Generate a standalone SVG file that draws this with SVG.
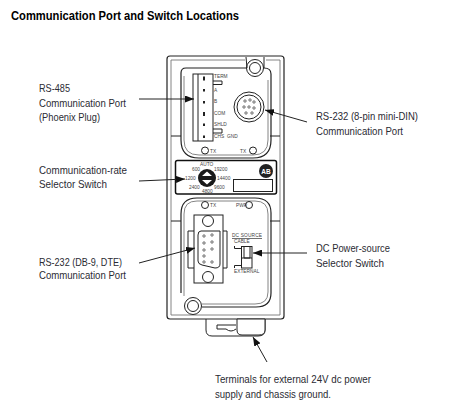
<svg xmlns="http://www.w3.org/2000/svg" width="463" height="411" viewBox="0 0 463 411">
<style>
text{font-family:"Liberation Sans",sans-serif}
.lb{font-size:10.8px;fill:#2b2b33}
.tt{font-size:12px;font-weight:700;fill:#000}
.t{font-size:4.8px;fill:#444}
.d{fill:none;stroke:#222;stroke-width:1}
.h{fill:none;stroke:#222;stroke-width:1.2}
.w{fill:#fff;stroke:#222;stroke-width:1}
.g{fill:none;stroke:#777;stroke-width:.9}
.p{fill:none;stroke:#333;stroke-width:.7}
.c{stroke:#222;stroke-width:1;fill:none;marker-end:url(#a)}
</style>
<defs><marker id="a" viewBox="0 0 9 7" refX="9" refY="3.500" markerWidth="9" markerHeight="7" markerUnits="userSpaceOnUse" orient="auto"><path d="M0 0L9 3.500L0 7Z" fill="#111"/></marker></defs>
<rect width="463" height="411" fill="#fff"/>
<text class="tt" x="11" y="20" textLength="228" lengthAdjust="spacingAndGlyphs">Communication Port and Switch Locations</text>
<g id="device">
<path class="h" d="M170 56H281Q284 56 284 59V316Q284 319 281 319H170Q167 319 167 316V59Q167 56 170 56Z"/>
<path class="g" d="M171 60H245M266 60H280M171 60V315H280V60"/>
<path class="d" d="M171 136H181M270 136H280M171 221H181M270 221H280"/>
<path class="d" d="M206 319V330Q206 336 212 336H258Q265 336 265 330V319"/>
<path class="w" d="M237 319H265V330Q265 335 259 335H242Q237 335 237 330Z"/>
<path class="d" d="M217 325H236M217 325V329H226Q231 333 236 329"/>
</g>
<g id="rs485-panel">
<path class="h" d="M186 68H246M264 68Q271 68 271 74V140Q271 158 253 158H199Q181 158 181 140V73Q181 68 186 68Z"/>
<path class="g" d="M268 80V140Q268 155 253 155H199Q184 155 184 140V76"/>
<circle class="w" cx="255" cy="68" r="8.500"/><circle class="d" cx="255" cy="68" r="5.500"/>
<path class="d" d="M246 57L247 68M264 57L264 68"/>
<rect class="w" x="193" y="74" width="20" height="67"/>
<path class="d" d="M198 74V141"/>
<path class="d" d="M213 81H222V84.500H213M213 129H222V133H213"/>
<g fill="#222"><rect x="203" y="76.500" width="2" height="4"/><rect x="203" y="89" width="2" height="2.500"/><rect x="203" y="101" width="2" height="2.500"/><rect x="203" y="112" width="2" height="4"/><rect x="203" y="123.500" width="2" height="2.500"/><rect x="203" y="135.500" width="2" height="2.500"/></g>
<text class="t" x="214" y="78">TERM</text><text class="t" x="214" y="92">A</text><text class="t" x="214" y="103">B</text><text class="t" x="214" y="115">COM</text><text class="t" x="214" y="126">SHLD</text><text class="t" x="214" y="138">CHS</text><text class="t" x="227" y="138">GND</text>
</g>
<g id="mini-din">
<circle class="d" cx="249" cy="107" r="15"/><circle class="w" cx="249" cy="107" r="12"/>
<g class="p"><circle cx="245" cy="101" r="1.200"/><circle cx="250" cy="100" r="1.200"/><circle cx="254" cy="102" r="1.200"/><circle cx="244" cy="107" r="1.200"/><circle cx="249" cy="107" r="1.200"/><circle cx="254" cy="108" r="1.200"/><circle cx="246" cy="113" r="1.200"/><circle cx="252" cy="113" r="1.200"/></g>
</g>
<g id="tx-leds-top">
<circle class="d" cx="205" cy="150.500" r="3.500"/><text class="t" x="210" y="153">TX</text>
<circle class="d" cx="253" cy="150.500" r="3.500"/><text class="t" x="240" y="153">TX</text>
</g>
<g id="rate-switch">
<rect x="175.500" y="160.500" width="101" height="33.500" rx="2" fill="#fff" stroke="#111" stroke-width="1.500"/>
<circle cx="207" cy="178" r="9" fill="#1a1a1a"/><path d="M202 176L207 171.500L212 176ZM202 180H212L207 184.500Z" fill="#fff"/>
<text class="t" x="200" y="166">AUTO</text><text class="t" x="192" y="171">600</text><text class="t" x="214" y="171">19200</text><text class="t" x="185" y="180">1200</text><text class="t" x="217" y="180">14400</text><text class="t" x="189" y="189">2400</text><text class="t" x="214" y="189">9600</text><text class="t" x="202" y="193">4800</text>
<circle cx="266" cy="171" r="7" fill="#222"/><text x="266" y="173.500" text-anchor="middle" font-size="6.500" font-weight="700" fill="#fff">AB</text>
<rect class="d" x="233.500" y="179.500" width="39" height="12"/>
</g>
<g id="db9-panel">
<path class="h" d="M202 307H256Q271 307 271 293V213Q271 198 255 198H197Q181 198 181 214V293"/>
<path class="g" d="M202 304H255Q268 304 268 292V214Q268 201 255 201H197Q184 201 184 214V296"/>
<circle class="w" cx="193" cy="306" r="8.500"/><circle class="d" cx="193" cy="306" r="5.500"/>
<circle class="d" cx="205" cy="205" r="3.500"/><text class="t" x="210" y="207">TX</text>
<circle class="d" cx="249" cy="205" r="3.500"/><text class="t" x="236" y="207">PWR</text>
</g>
<g id="db9">
<rect class="w" x="194" y="215" width="29" height="68"/>
<path class="d" d="M194 231H188V268H194M223 231H227V268H223"/>
<circle class="w" cx="208" cy="221" r="5.500"/><circle class="w" cx="208" cy="277" r="5.500"/>
<path class="w" d="M201 231Q198 231 198 235V261Q198 264 202 265L215 268Q220 268 220 264V231Z"/>
<g class="p"><circle cx="204" cy="236" r="1.200"/><circle cx="204" cy="243" r="1.200"/><circle cx="204" cy="250" r="1.200"/><circle cx="204" cy="256" r="1.200"/><circle cx="204" cy="262" r="1.200"/><circle cx="212" cy="235" r="1.200"/><circle cx="212" cy="242" r="1.200"/><circle cx="212" cy="249" r="1.200"/><circle cx="212" cy="262" r="1.200"/></g>
</g>
<g id="dc-switch">
<text class="t" x="232" y="237" textLength="30">DC  SOURCE</text><path class="p" d="M232 238.500H262"/>
<text class="t" x="234" y="243">CABLE</text>
<text class="t" x="234" y="273">EXTERNAL</text>
<path class="d" d="M234.500 246V248.500H241M234.500 268V265.500H241"/>
<rect class="w" x="241.500" y="246.500" width="10.500" height="21.500"/><path class="d" d="M244 247V258H250V247M241.500 258H252"/>
</g>
<g id="connectors">
<path class="c" d="M139 99H194"/>
<path class="c" d="M307 122L265 110"/>
<path class="c" d="M139 181L185 179"/>
<path class="c" d="M139 263L195 248"/>
<path class="c" d="M307 253H253"/>
<path class="c" d="M267 362L253 337"/>
</g>
<g id="labels">
<text class="lb" x="39" y="92" textLength="31" lengthAdjust="spacingAndGlyphs">RS-485</text><text class="lb" x="39" y="107" textLength="87" lengthAdjust="spacingAndGlyphs">Communication Port</text><text class="lb" x="39" y="120.500" textLength="61" lengthAdjust="spacingAndGlyphs">(Phoenix Plug)</text>
<text class="lb" x="316" y="120" textLength="102" lengthAdjust="spacingAndGlyphs">RS-232 (8-pin mini-DIN)</text><text class="lb" x="316" y="135" textLength="87" lengthAdjust="spacingAndGlyphs">Communication Port</text>
<text class="lb" x="39" y="174" textLength="88" lengthAdjust="spacingAndGlyphs">Communication-rate</text><text class="lb" x="39" y="188" textLength="68" lengthAdjust="spacingAndGlyphs">Selector Switch</text>
<text class="lb" x="39" y="266" textLength="83" lengthAdjust="spacingAndGlyphs">RS-232 (DB-9, DTE)</text><text class="lb" x="39" y="279" textLength="87" lengthAdjust="spacingAndGlyphs">Communication Port</text>
<text class="lb" x="316" y="252" textLength="74" lengthAdjust="spacingAndGlyphs">DC Power-source</text><text class="lb" x="316" y="267" textLength="68" lengthAdjust="spacingAndGlyphs">Selector Switch</text>
<text class="lb" x="215" y="383" textLength="156" lengthAdjust="spacingAndGlyphs">Terminals for external 24V dc power</text><text class="lb" x="215" y="398" textLength="116" lengthAdjust="spacingAndGlyphs">supply and chassis ground.</text>
</g>
</svg>
